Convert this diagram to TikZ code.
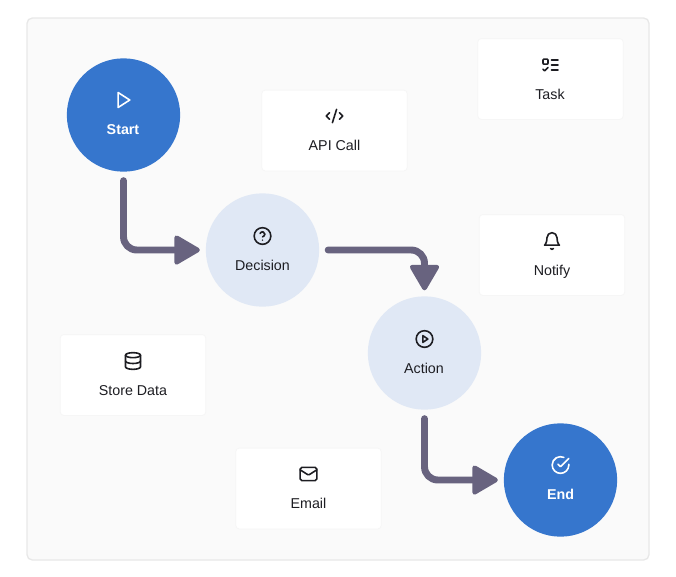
\documentclass[tikz,border=0pt]{standalone}
\usepackage{fontspec}
\setmainfont{Liberation Sans}
\usetikzlibrary{arrows.meta}
\definecolor{panelfill}{HTML}{FAFAFA}
\definecolor{panelline}{HTML}{E8E8E8}
\definecolor{cardline}{HTML}{F6F6F6}
\definecolor{flowblue}{HTML}{3676CD}
\definecolor{flowlight}{HTML}{E0E8F5}
\definecolor{flowarrowc}{HTML}{68637F}
\definecolor{inktext}{HTML}{1D1D22}
\tikzset{
  flowcircle/.style={circle, minimum size=85pt, inner sep=0pt, outer sep=0pt},
  endcircle/.style={flowcircle, fill=flowblue},
  stepcircle/.style={flowcircle, fill=flowlight},
  card/.style={draw=cardline, line width=.6pt, fill=white, rounded corners=2.5pt, minimum width=109pt, minimum height=60.6pt, inner sep=0pt},
  darktext/.style={text=inktext, font=\fontsize{10.7pt}{12pt}\selectfont, inner sep=0pt, text height=7.7pt, text depth=0pt},
  lighttext/.style={text=white, font=\fontsize{10.7pt}{12pt}\selectfont\bfseries, inner sep=0pt, text height=7.7pt, text depth=0pt},
  flowarrow/.style={draw=flowarrowc, line width=5.2pt, line cap=round, rounded corners=10pt, shorten <=6.75pt, shorten >=4.5pt,
    -{Triangle[length=21pt, width=23.5pt, line width=3.5pt, round]}},
  icon/.style={line width=1.2pt, line cap=round, line join=round, x=.625pt, y=-.625pt, shift={(-12,-12)}},
  pics/iconplay/.style={code={\draw[icon, #1] (5.5,3) -- (19.5,12) -- (5.5,21) -- cycle;}},
  pics/iconlist/.style={code={\draw[icon, #1, rounded corners=.6pt] (3,5) rectangle (9,11);
    \draw[icon, #1] (3,17) -- (5,19) -- (9,15) (13,6) -- (21,6) (13,12) -- (21,12) (13,18) -- (21,18);}},
  pics/iconcode/.style={code={\draw[icon, #1] (18,16) -- (22,12) -- (18,8) (6,8) -- (2,12) -- (6,16) (14.5,4) -- (9.5,20);}},
  pics/iconhelp/.style={code={\draw[icon, #1] (12,12) circle[radius=10];
    \draw[icon, #1] (9.09,9) arc[start angle=199, end angle=360, radius=3] .. controls (15,12) and (12,13) .. (12,13) (12,17) -- (12.01,17);}},
  pics/iconbell/.style={code={\draw[icon, #1] (6,8) arc[start angle=180, end angle=360, radius=6] .. controls (18,15) and (21,17) .. (21,17) -- (3,17) .. controls (3,17) and (6,15) .. (6,8) -- cycle;
    \draw[icon, #1] (10.3,21) .. controls (11,22.3) and (13,22.3) .. (13.7,21);}},
  pics/icondata/.style={code={\draw[icon, #1] (12,5) ellipse[x radius=9, y radius=3];
    \draw[icon, #1] (3,5) -- (3,19) arc[start angle=180, end angle=0, x radius=9, y radius=3] -- (21,5);
    \draw[icon, #1] (3,12) arc[start angle=180, end angle=0, x radius=9, y radius=3];}},
  pics/iconaction/.style={code={\draw[icon, #1] (12,12) circle[radius=10];
    \draw[icon, #1] (10,8) -- (16,12) -- (10,16) -- cycle;}},
  pics/iconmail/.style={code={\draw[icon, #1, rounded corners=1.25pt] (2,4) rectangle (22,20);
    \draw[icon, #1] (22,7) -- (13.03,12.7) .. controls (12.4,13.1) and (11.6,13.1) .. (10.97,12.7) -- (2,7);}},
  pics/iconcheck/.style={code={\draw[icon, #1] (22,11.08) -- (22,12) arc[start angle=0, end angle=294, radius=10];
    \draw[icon, #1] (22,4) -- (12,14.01) -- (9,11.01);}},
}
\begin{document}
\begin{tikzpicture}[x=.75pt, y=-.75pt]
  \useasboundingbox (0,0) rectangle (676,576);
  \fill[white] (0,0) rectangle (676,576);
  \draw[draw=panelline, fill=panelfill, line width=1pt, rounded corners=4pt] (27,18) rectangle (649,560);

  \node[card] (task) at (550.5,79) {};
  \node[card] (apicall) at (334.5,130.5) {};
  \node[card] (notify) at (552,255) {};
  \node[card] (store) at (133,375) {};
  \node[card] (email) at (308.5,488.5) {};

  \node[endcircle] (start) at (123.5,115) {};
  \node[stepcircle] (decision) at (262.5,250) {};
  \node[stepcircle] (action) at (424.5,353) {};
  \node[endcircle] (end) at (560.5,480) {};

  \draw[flowarrow] (start) |- (decision);
  \draw[flowarrow] (decision) -| (action);
  \draw[flowarrow] (action) |- (end);

  \node[lighttext] (startlabel) at (123,129) {Start};
  \node[darktext] (decisionlabel) at (262.5,265) {Decision};
  \node[darktext] (actionlabel) at (424,368) {Action};
  \node[lighttext] (endlabel) at (560.5,494) {End};
  \node[darktext] (tasklabel) at (550,94) {Task};
  \node[darktext] (apicalllabel) at (334.5,145) {API Call};
  \node[darktext] (notifylabel) at (552,270) {Notify};
  \node[darktext] (storelabel) at (133,390) {Store Data};
  \node[darktext] (emaillabel) at (308.5,503) {Email};

  \pic at (123.5,100) {iconplay={white}};
  \pic at (262.5,236) {iconhelp={inktext}};
  \pic at (424.5,339) {iconaction={inktext}};
  \pic at (560.5,465) {iconcheck={white}};
  \pic at (550.5,65) {iconlist={inktext}};
  \pic at (334.5,116) {iconcode={inktext}};
  \pic at (552,241) {iconbell={inktext}};
  \pic at (133,361) {icondata={inktext}};
  \pic at (308.5,474) {iconmail={inktext}};
\end{tikzpicture}
\end{document}
